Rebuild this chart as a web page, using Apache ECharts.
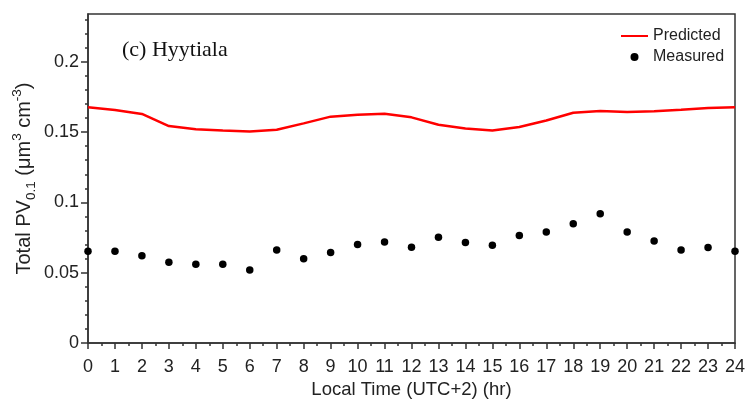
<!DOCTYPE html>
<html>
<head>
<meta charset="utf-8">
<script src="https://cdn.jsdelivr.net/npm/echarts@6/dist/echarts.min.js"></script>
<style>
html,body{margin:0;padding:0;background:#fff;}
#chart{width:745px;height:401px;}
</style>
</head>
<body>
<div id="chart"></div>
<script>
const hours = [0,1,2,3,4,5,6,7,8,9,10,11,12,13,14,15,16,17,18,19,20,21,22,23,24];
const predicted = [0.1676,0.1657,0.1629,0.1543,0.1521,0.1512,0.1505,0.1517,0.1562,0.1610,0.1624,0.1631,0.1605,0.1552,0.1526,0.1512,0.1536,0.1583,0.1638,0.1650,0.1643,0.1648,0.1659,0.1671,0.1676];
const measured = [0.0652,0.0652,0.0621,0.0574,0.0560,0.0560,0.0519,0.0662,0.0600,0.0643,0.0700,0.0719,0.0681,0.0752,0.0714,0.0695,0.0764,0.0790,0.0848,0.0919,0.0790,0.0726,0.0662,0.0679,0.0652];
const yMajorTicks = [0,0.05,0.1,0.15,0.2];
const yMinorTicks = [0,0.01,0.02,0.03,0.04,0.05,0.06,0.07,0.08,0.09,0.1,0.11,0.12,0.13,0.14,0.15,0.16,0.17,0.18,0.19,0.2,0.21,0.22,0.23];
const yMax = 0.234;

const chart = echarts.init(document.getElementById('chart'), null, {renderer:'canvas'});
const axisColor = '#333';
const font = 'Liberation Sans, Arial, sans-serif';
chart.setOption({
  animation:false,
  backgroundColor:'#fff',
  title:{
    text:'(c) Hyytiala', left:117, top:34,
    textStyle:{fontFamily:'Liberation Serif, Times New Roman, serif', fontSize:22, fontWeight:'normal', color:'#111'}
  },
  legend:{
    orient:'vertical', left:615, top:23, itemWidth:27, itemHeight:8, itemGap:5,
    textStyle:{fontFamily:font, fontSize:16, color:'#222'},
    data:[
      {name:'Predicted', itemStyle:{color:'rgba(0,0,0,0)', borderWidth:0}},
      {name:'Measured', icon:'circle'}
    ]
  },
  grid:{left:88, right:10, top:14, bottom:58, show:true, borderColor:axisColor, borderWidth:1.5, containLabel:false, outerBoundsMode:'none'},
  xAxis:{
    type:'value', min:0, max:24, interval:1,
    name:'Local Time (UTC+2) (hr)', nameLocation:'middle', nameGap:37, nameMoveOverlap:false,
    nameTextStyle:{fontFamily:font, fontSize:18.5, color:'#222'},
    axisLine:{show:true, lineStyle:{color:axisColor, width:1.5}},
    axisTick:{show:true, length:6, inside:false, lineStyle:{color:axisColor, width:1.5}},
    minorTick:{show:true, splitNumber:2, length:3, lineStyle:{color:axisColor, width:1.5}},
    axisLabel:{fontFamily:font, fontSize:18, color:'#222', margin:15},
    splitLine:{show:false}
  },
  yAxis:[{
    type:'value', min:0, max:yMax,
    name:'{a|Total PV}{sub|0.1}{a| (μm}{sup|3}{a| cm}{sup|-3}{a|)}',
    nameLocation:'middle', nameRotate:90, nameGap:50, nameMoveOverlap:false,
    nameTextStyle:{
      fontFamily:font, fontSize:20, color:'#222',
      rich:{
        a:{fontFamily:font, fontSize:20, color:'#222', lineHeight:28, verticalAlign:'middle'},
        sub:{fontFamily:font, fontSize:13.5, color:'#222', lineHeight:13, verticalAlign:'bottom'},
        sup:{fontFamily:font, fontSize:13.5, color:'#222', lineHeight:13, verticalAlign:'top'}
      }
    },
    axisLine:{show:true, lineStyle:{color:axisColor, width:1.5}},
    axisTick:{show:true, length:7, customValues:yMajorTicks, lineStyle:{color:axisColor, width:1.5}},
    axisLabel:{fontFamily:font, fontSize:18, color:'#222', margin:9, customValues:yMajorTicks},
    splitLine:{show:false}
  },{
    type:'value', min:0, max:yMax, position:'left',
    axisLine:{show:false},
    axisTick:{show:true, length:3, customValues:yMinorTicks, lineStyle:{color:axisColor, width:1.5}},
    axisLabel:{show:false},
    splitLine:{show:false}
  }],
  series:[{
    name:'Predicted', type:'line', yAxisIndex:0,
    data:hours.map((h,i)=>[h, predicted[i]]),
    showSymbol:false, symbol:'none',
    lineStyle:{color:'#ff0000', width:2.5}, itemStyle:{color:'#ff0000'}, z:3
  },{
    name:'Measured', type:'scatter', yAxisIndex:0,
    data:hours.map((h,i)=>[h, measured[i]]),
    symbol:'circle', symbolSize:7.5, itemStyle:{color:'#000', opacity:1}, clip:false, z:4
  }]
});
</script>
</body>
</html>
